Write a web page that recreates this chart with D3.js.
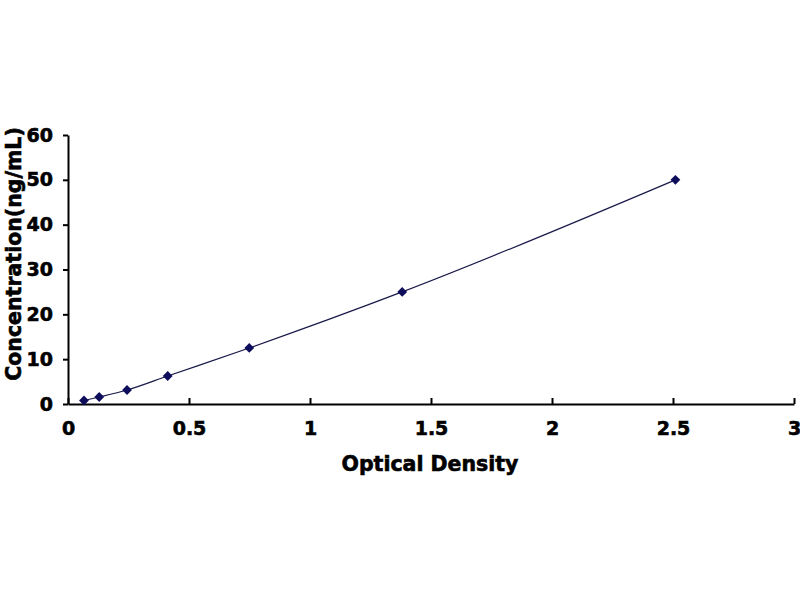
<html>
<head>
<script src="https://d3js.org/d3.v7.min.js"></script>
<style>
    body { margin: 0; background: #ffffff; }
    text { font-family: "DejaVu Sans", Arial, sans-serif; font-weight: bold; stroke: #000; stroke-width: 0.6px; }
    .axis .domain { stroke: #000; stroke-width: 2; }
    .axis line { stroke: #000; stroke-width: 2; }
</style>
</head>
<body>
<svg id="chart" width="800" height="600"></svg>
<script>
// standard curve values
const opticalDensity = [0.066, 0.129, 0.244, 0.412, 0.749, 1.381, 2.51];
const concentration = [0.78, 1.56, 3.12, 6.25, 12.5, 25, 50];
const xTicks = [0, 0.5, 1, 1.5, 2, 2.5, 3];
const yTicks = [0, 10, 20, 30, 40, 50, 60];

const svg = d3.select("svg#chart");
const margin = { top: 135, right: 6, bottom: 196, left: 68 };
const width = svg.attr("width");
const height = svg.attr("height");
const chartWidth = width - margin.left - margin.right;
const chartHeight = height - margin.top - margin.bottom;

const points = opticalDensity.map((d, i) => ({ od: d, conc: concentration[i] }));

const xScale = d3.scaleLinear().domain([0, 3]).range([0, chartWidth]);
const yScale = d3.scaleLinear().domain([0, 60]).range([chartHeight, 0]);

const chart = svg.append("g")
    .attr("transform", `translate(${margin.left},${margin.top})`);

// axes
let bottomAxis = d3.axisBottom(xScale).tickValues(xTicks)
    .tickSizeInner(-6).tickSizeOuter(0).tickPadding(18)
    .tickFormat(d3.format("~g"));
let xAxis = chart.append("g")
    .attr("class", "x axis")
    .attr("transform", `translate(0,${chartHeight})`)
    .call(bottomAxis);
xAxis.selectAll("text").style("font-size", "19px").attr("fill", "#000");

let leftAxis = d3.axisLeft(yScale).tickValues(yTicks)
    .tickSizeInner(5).tickSizeOuter(0).tickPadding(10);
let yAxis = chart.append("g")
    .attr("class", "y axis")
    .call(leftAxis);
yAxis.selectAll("text").style("font-size", "19px").attr("fill", "#000");

// fitted curve
const lineGen = d3.line()
    .x(d => xScale(d.od))
    .y(d => yScale(d.conc))
    .curve(d3.curveMonotoneX);
chart.append("path")
    .datum(points)
    .attr("fill", "none")
    .attr("stroke", "#1a1a4a")
    .attr("stroke-width", 1.2)
    .attr("d", lineGen);

// diamond markers
const diamond = d3.symbol().type(d3.symbolSquare).size(48);
chart.selectAll("path.point").data(points)
    .join("path")
    .attr("class", "point")
    .attr("d", diamond)
    .attr("fill", "#0d0d5c")
    .attr("transform", d => `translate(${xScale(d.od)},${yScale(d.conc)}) rotate(45)`);

// axis titles
svg.append("text")
    .attr("x", 430)
    .attr("y", 471)
    .attr("text-anchor", "middle")
    .style("font-size", "20.5px")
    .text("Optical Density");
svg.append("text")
    .attr("transform", "rotate(-90)")
    .attr("x", -254)
    .attr("y", 21)
    .attr("text-anchor", "middle")
    .style("font-size", "20.5px")
    .text("Concentration(ng/mL)");
</script>
</body>
</html>
